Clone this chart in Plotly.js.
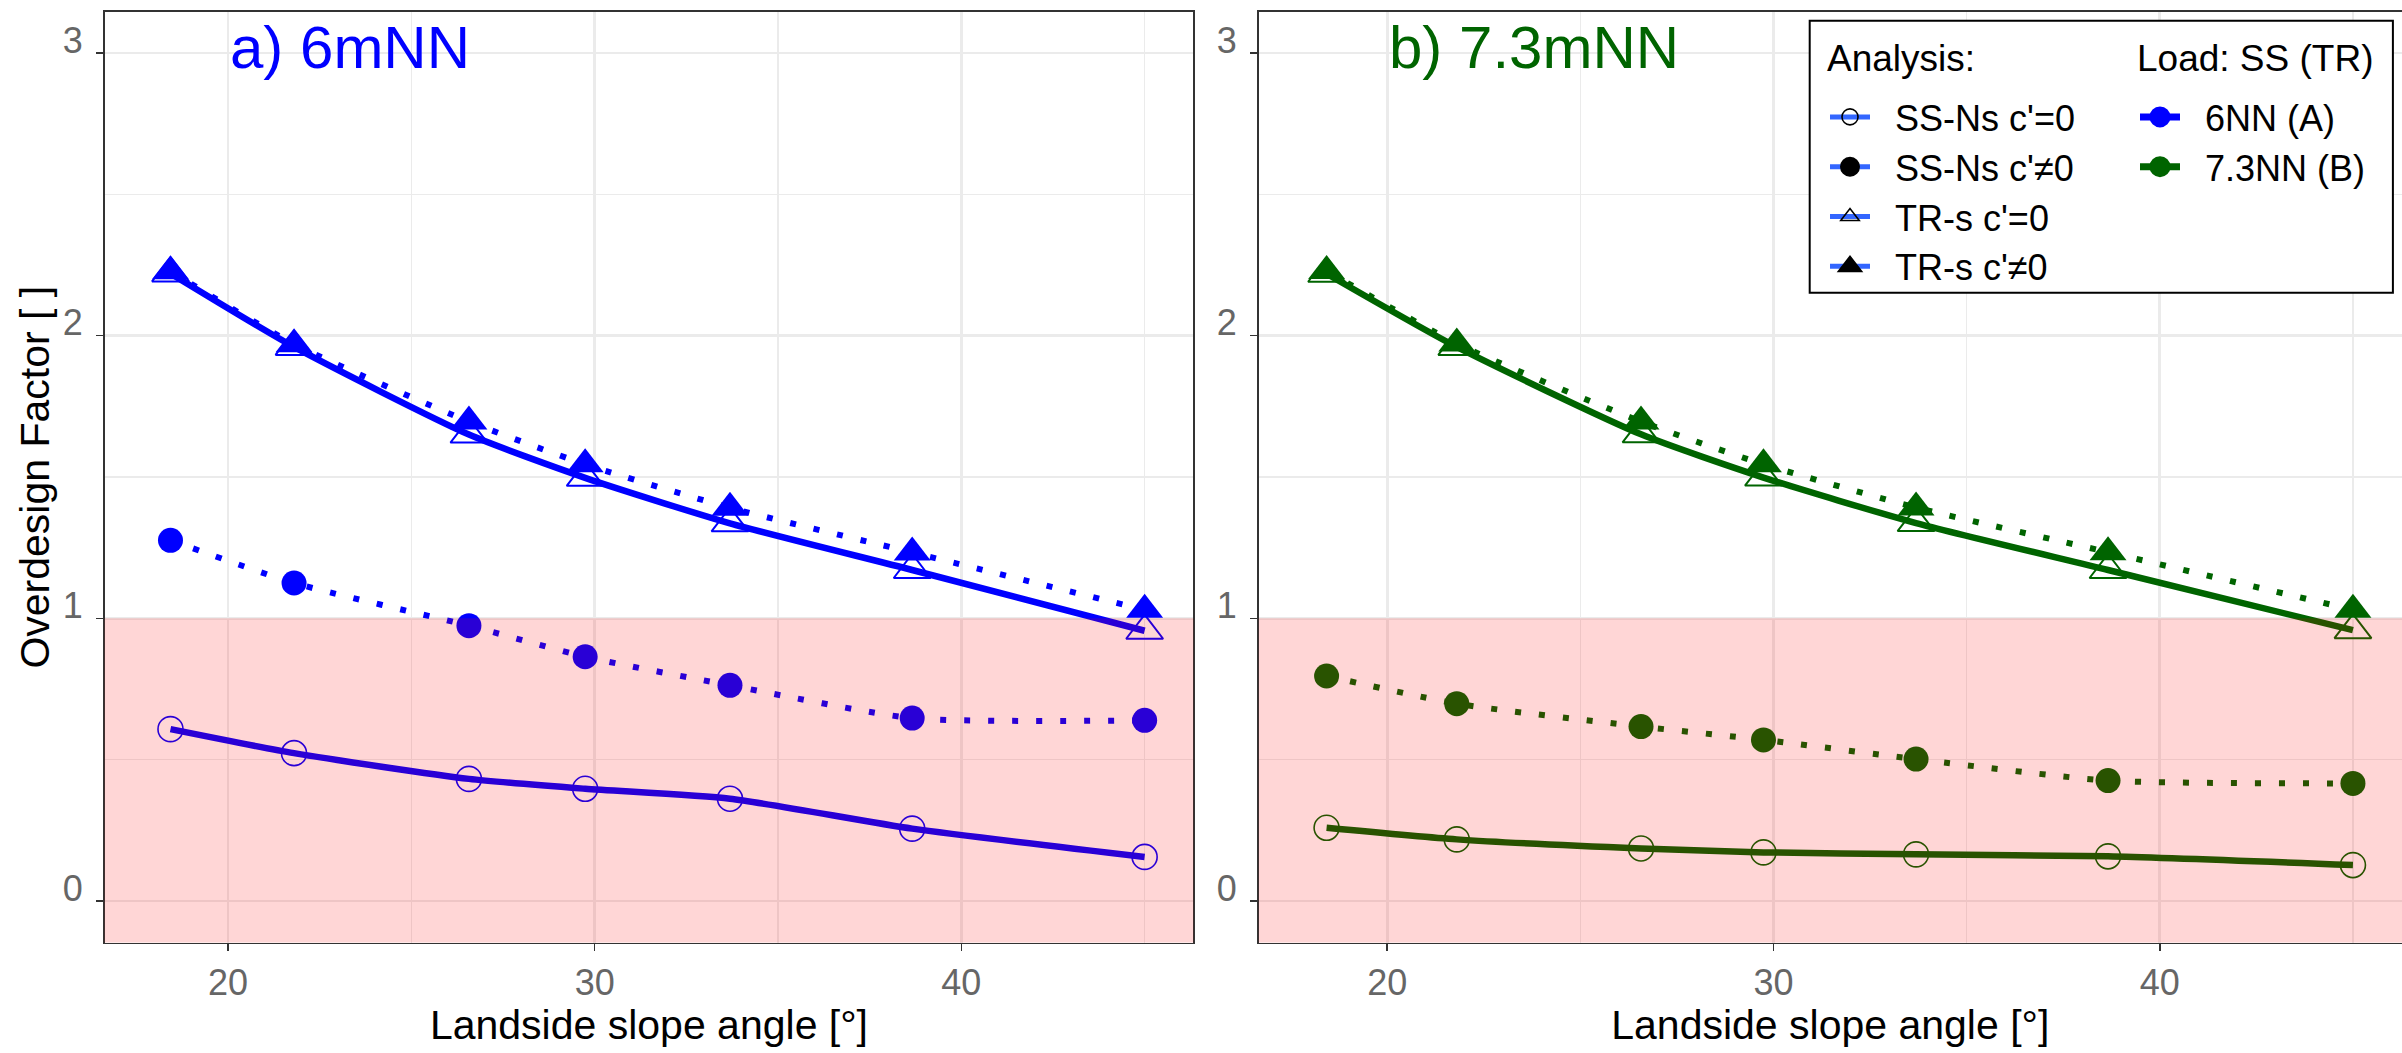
<!DOCTYPE html>
<html><head><meta charset="utf-8">
<script src="https://cdn.plot.ly/plotly-3.0.1.min.js"></script>
<style>html,body{margin:0;padding:0;background:#fff}</style>
</head><body><div id="chart" style="width:2402px;height:1053px"></div>
<script>
// ---------- data ----------
const slopeAngle = [18.43, 21.80, 26.57, 29.74, 33.69, 38.66, 45.00];
// panel a) 6mNN
const a_SSNs_c0 = [0.608, 0.523, 0.432, 0.397, 0.362, 0.256, 0.156];
const a_SSNs_c  = [1.276, 1.125, 0.974, 0.864, 0.763, 0.647, 0.639];
const a_TRs_c0  = [2.220, 1.960, 1.650, 1.497, 1.336, 1.171, 0.956];
const a_TRs_c   = [2.228, 1.970, 1.696, 1.545, 1.391, 1.233, 1.030];
// panel b) 7.3mNN
const b_SSNs_c0 = [0.259, 0.218, 0.186, 0.172, 0.165, 0.158, 0.127];
const b_SSNs_c  = [0.796, 0.698, 0.617, 0.570, 0.502, 0.426, 0.416];
const b_TRs_c0  = [2.219, 1.960, 1.651, 1.498, 1.337, 1.171, 0.958];
const b_TRs_c   = [2.229, 1.972, 1.696, 1.545, 1.392, 1.234, 1.030];

const panelTitles = ['a) 6mNN', 'b) 7.3mNN'];
const analysisTitle = 'Analysis:';
const analysisLabels = ["SS-Ns c'=0", "SS-Ns c'\u22600", "TR-s c'=0", "TR-s c'\u22600"];
const loadTitle = 'Load: SS (TR)';
const loadLabels = ['6NN (A)', '7.3NN (B)'];
const xTickVals = [20, 30, 40];
const yTickVals = [0, 1, 2, 3];
const xTitle = 'Landside slope angle [°]';
const yTitle = 'Overdesign Factor [ ]';
const safetyLimit = 1;

// ---------- styles ----------
const FONT = 'Liberation Sans, Arial, sans-serif';
const BLUE = '#0000FF', GREEN = '#006400', SMOOTH = '#3366FF';
const W = 2402, H = 1053;
const px = v => v / W, py = v => 1 - v / H;
const PAD = '\u00a0\u00a0';

const MARK = {
  c0circ: {symbol: 'circle-open', size: 25, lw: 1.6},
  ccirc:  {symbol: 'circle', size: 25, lw: 0},
  c0tri:  {symbol: 'triangle-up-open', size: 32, lw: 2},
  ctri:   {symbol: 'triangle-up', size: 32, lw: 0}
};
const DOT = '6px,18px';

function series(y, xa, ya, color, mk, dotted) {
  return {
    type: 'scatter', mode: 'lines+markers', x: slopeAngle, y: y,
    xaxis: xa, yaxis: ya, showlegend: false, cliponaxis: false,
    line: {color: color, width: dotted ? 6 : 6.5, shape: 'spline', smoothing: 0.6, dash: dotted ? DOT : 'solid'},
    marker: {symbol: mk.symbol, size: mk.size, color: color, line: {color: color, width: mk.lw}}
  };
}

const traces = [
  series(a_SSNs_c0, 'x', 'y', BLUE, MARK.c0circ, false),
  series(a_SSNs_c,  'x', 'y', BLUE, MARK.ccirc, true),
  series(a_TRs_c0,  'x', 'y', BLUE, MARK.c0tri, false),
  series(a_TRs_c,   'x', 'y', BLUE, MARK.ctri, true),
  series(b_SSNs_c0, 'x2', 'y2', GREEN, MARK.c0circ, false),
  series(b_SSNs_c,  'x2', 'y2', GREEN, MARK.ccirc, true),
  series(b_TRs_c0,  'x2', 'y2', GREEN, MARK.c0tri, false),
  series(b_TRs_c,   'x2', 'y2', GREEN, MARK.ctri, true)
];

// legend-only entries
const analysisMarks = [MARK.c0circ, MARK.ccirc, MARK.c0tri, MARK.ctri];
analysisLabels.forEach((lab, i) => {
  const open = analysisMarks[i].lw > 0;
  traces.push({type: 'scatter', mode: 'lines+markers', x: [null], y: [null], xaxis: 'x', yaxis: 'y',
    name: PAD + lab, legend: 'legend', showlegend: true,
    line: {color: SMOOTH, width: 5},
    marker: {symbol: analysisMarks[i].symbol, size: 16, color: '#000', line: {color: '#000', width: open ? 1.6 : 4}}});
});
[BLUE, GREEN].forEach((c, i) => {
  traces.push({type: 'scatter', mode: 'lines+markers', x: [null], y: [null], xaxis: 'x', yaxis: 'y',
    name: PAD + loadLabels[i], legend: 'legend2', showlegend: true,
    line: {color: c, width: 7},
    marker: {symbol: 'circle', size: 16, color: c, line: {color: c, width: 5}}});
});

const yRange = [-0.1475, 3.146];
const axBase = {
  showline: true, mirror: true, linecolor: '#333', linewidth: 1.6,
  ticks: 'outside', ticklen: 7, tickwidth: 1.6, tickcolor: '#333',
  showgrid: true, gridcolor: '#EBEBEB', gridwidth: 2.7, zeroline: false,
  tickfont: {family: FONT, size: 36, color: '#666'},
  tickmode: 'array'
};
const xa = (dom, range, anchor) => Object.assign({}, axBase, {
  domain: dom, range: range, anchor: anchor, tickvals: xTickVals, ticktext: xTickVals.map(String),
  ticklabelstandoff: 0,
  minor: {dtick: 5, tick0: 0, showgrid: true, gridcolor: '#EBEBEB', gridwidth: 1.3, ticks: ''},
  title: {text: xTitle, font: {family: FONT, size: 41, color: '#000'}, standoff: 9}
});
const ya = (anchor, title) => Object.assign({}, axBase, {
  domain: [py(942.7), py(11.7)], range: yRange, anchor: anchor,
  tickvals: yTickVals, ticktext: yTickVals.map(String),
  ticklabelshift: -13, ticklabelstandoff: 6,
  minor: {dtick: 0.5, tick0: 0, showgrid: true, gridcolor: '#EBEBEB', gridwidth: 1.3, ticks: ''},
  title: title ? {text: title, font: {family: FONT, size: 41, color: '#000'}, standoff: 0} : {text: ''}
});

const legendBase = {xanchor: 'left', yanchor: 'top', bgcolor: 'rgba(0,0,0,0)', borderwidth: 0,
  font: {family: FONT, size: 36, color: '#000'}, itemwidth: 40, tracegroupgap: 0, itemsizing: 'trace'};

const layout = {
  width: W, height: H, margin: {l: 0, r: 0, t: 0, b: 0},
  paper_bgcolor: '#fff', plot_bgcolor: '#fff',
  font: {family: FONT, color: '#000'},
  xaxis: xa([px(104.5), px(1193.4)], [16.63, 46.33], 'y'),
  yaxis: ya('x', yTitle),
  xaxis2: xa([px(1258.6), 1], [16.67, 46.27], 'y2'),
  yaxis2: ya('x2', null),
  shapes: [
    {type: 'rect', xref: 'x domain', yref: 'y', x0: 0, x1: 1, y0: yRange[0], y1: safetyLimit,
     fillcolor: 'rgba(255,0,0,0.16)', line: {width: 0}, layer: 'above'},
    {type: 'rect', xref: 'x2 domain', yref: 'y2', x0: 0, x1: 1, y0: yRange[0], y1: safetyLimit,
     fillcolor: 'rgba(255,0,0,0.16)', line: {width: 0}, layer: 'above'},
    {type: 'rect', xref: 'paper', yref: 'paper', x0: px(1809.7), x1: px(2392.9), y0: py(292.7), y1: py(20.7),
     fillcolor: '#fff', line: {color: '#000', width: 2}, layer: 'above'}
  ],
  annotations: [
    {xref: 'x', yref: 'y', x: 20, y: 3.02, xanchor: 'left', yanchor: 'middle', showarrow: false,
     text: panelTitles[0], font: {family: FONT, size: 60, color: BLUE}},
    {xref: 'x2', yref: 'y2', x: 20, y: 3.02, xanchor: 'left', yanchor: 'middle', showarrow: false,
     text: panelTitles[1], font: {family: FONT, size: 60, color: GREEN}},
    {xref: 'paper', yref: 'paper', x: px(1825), y: py(58), xanchor: 'left', yanchor: 'middle', showarrow: false,
     text: analysisTitle, font: {family: FONT, size: 37, color: '#000'}},
    {xref: 'paper', yref: 'paper', x: px(2135), y: py(58), xanchor: 'left', yanchor: 'middle', showarrow: false,
     text: loadTitle, font: {family: FONT, size: 37, color: '#000'}}
  ],
  legend: Object.assign({x: px(1825), y: py(87)}, legendBase),
  legend2: Object.assign({x: px(2135), y: py(87)}, legendBase)
};

Plotly.newPlot('chart', traces, layout, {staticPlot: true, displayModeBar: false});
</script>
</body></html>
